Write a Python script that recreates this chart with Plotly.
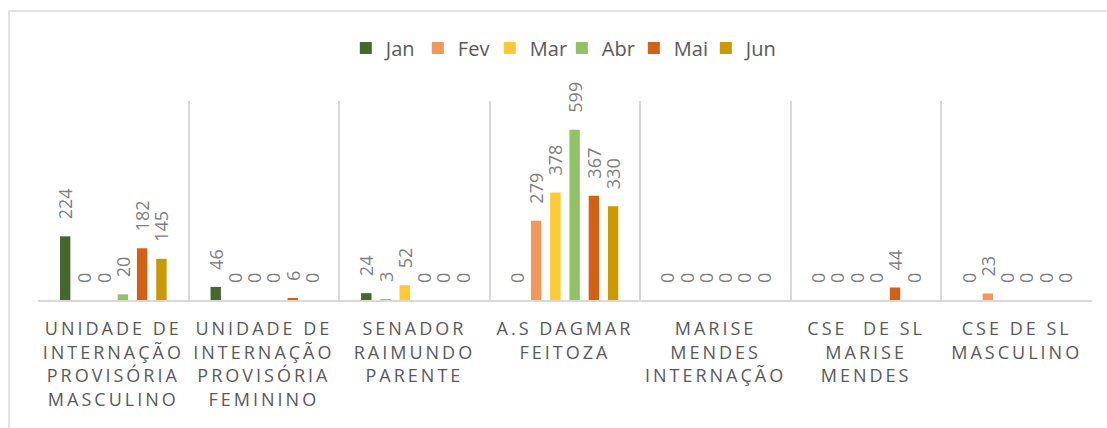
import plotly.graph_objects as go

categories = [
    "UNIDADE DE<br>INTERNAÇÃO<br>PROVISÓRIA<br>MASCULINO",
    "UNIDADE DE<br>INTERNAÇÃO<br>PROVISÓRIA<br>FEMININO",
    "SENADOR<br>RAIMUNDO<br>PARENTE",
    "A.S DAGMAR<br>FEITOZA",
    "MARISE<br>MENDES<br>INTERNAÇÃO",
    "CSE  DE SL<br>MARISE<br>MENDES",
    "CSE DE SL<br>MASCULINO",
]
months = ["Jan", "Fev", "Mar", "Abr", "Mai", "Jun"]
jan = [224, 46, 24, 0, 0, 0, 0]
fev = [0, 0, 3, 279, 0, 0, 23]
mar = [0, 0, 52, 378, 0, 0, 0]
abr = [20, 0, 0, 599, 0, 0, 0]
mai = [182, 6, 0, 367, 0, 44, 0]
jun = [145, 0, 0, 330, 0, 0, 0]
series = [jan, fev, mar, abr, mai, jun]
colors = ["#44682C", "#F4975A", "#FFCA2F", "#91C265", "#D46014", "#CC9A00"]

fig = go.Figure()
for name, vals, col in zip(months, series, colors):
    fig.add_trace(go.Bar(
        name=name, x=categories, y=vals, marker_color=col,
        marker_line_width=0,
        text=vals, texttemplate="\u00a0\u00a0\u00a0%{y}",
        textposition="outside", textangle=-90, constraintext="none",
        cliponaxis=False,
        textfont=dict(family="Open Sans", size=18, color="#7F7F7F"),
    ))

fig.update_layout(
    width=1107, height=428,
    margin=dict(l=38, r=15, t=101, b=128, autoexpand=False),
    paper_bgcolor="white", plot_bgcolor="white",
    barmode="group", bargap=0.233, bargroupgap=0.46,
    font=dict(family="Open Sans", color="#595959"),
    showlegend=True,
    legend=dict(orientation="h", x=0.497, xanchor="center", y=1.266, yanchor="middle",
                font=dict(size=20, color="#595959"), bgcolor="rgba(0,0,0,0)",
                entrywidth=27, entrywidthmode="pixels"),
    xaxis=dict(
        tickson="boundaries", showgrid=True, gridcolor="#D9D9D9", gridwidth=1.5,
        showline=True, linecolor="#D9D9D9", linewidth=1.5,
        ticks="", ticklabelstandoff=12,
        tickfont=dict(family="Open Sans", size=18, color="#595959"),
        tickangle=0, fixedrange=True, automargin=False,
    ),
    yaxis=dict(range=[0, 700], visible=False, showgrid=False, zeroline=False,
               automargin=False),
    shapes=[dict(type="rect", xref="paper", yref="paper",
                 x0=-0.0275, x1=1.02, y0=-0.7, y1=1.452,
                 line=dict(color="#D9D9D9", width=1.5), fillcolor="rgba(0,0,0,0)")],
)

post = """
document.body.style.margin = '0';
var gd = document.getElementById('{plot_id}');
function ls(){ gd.querySelectorAll('.xtick text').forEach(function(t){ t.style.letterSpacing='3px'; }); }
ls(); gd.on('plotly_afterplot', ls);
"""
fig.write_html("out.html", post_script=post, config={"displayModeBar": False})
